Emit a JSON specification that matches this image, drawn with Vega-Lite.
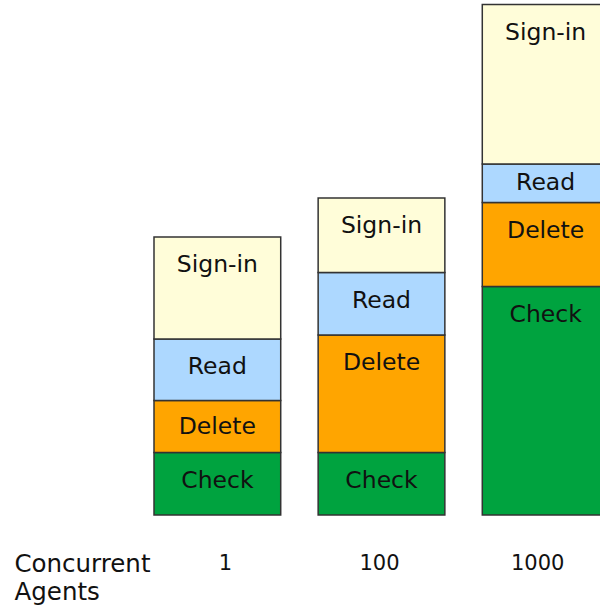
{
  "$schema": "https://vega.github.io/schema/vega-lite/v6.json",
  "width": 600,
  "height": 515,
  "autosize": "none",
  "padding": {"top": 0, "left": 0, "right": 0, "bottom": 91},
  "background": "white",
  "config": {"view": {"stroke": null}, "font": "DejaVu Sans"},
  "data": {
    "values": [
      {"agents": "1", "task": "Check", "order": 1, "value": 12.5},
      {"agents": "1", "task": "Delete", "order": 2, "value": 10.4},
      {"agents": "1", "task": "Read", "order": 3, "value": 12.3},
      {"agents": "1", "task": "Sign-in", "order": 4, "value": 20.4},
      {"agents": "100", "task": "Check", "order": 1, "value": 12.5},
      {"agents": "100", "task": "Delete", "order": 2, "value": 23.5},
      {"agents": "100", "task": "Read", "order": 3, "value": 12.5},
      {"agents": "100", "task": "Sign-in", "order": 4, "value": 14.9},
      {"agents": "1000", "task": "Check", "order": 1, "value": 45.7},
      {"agents": "1000", "task": "Delete", "order": 2, "value": 16.8},
      {"agents": "1000", "task": "Read", "order": 3, "value": 7.7},
      {"agents": "1000", "task": "Sign-in", "order": 4, "value": 31.9}
    ]
  },
  "transform": [
    {"stack": "value", "groupby": ["agents"], "sort": [{"field": "order", "order": "ascending"}], "as": ["v0", "v1"]},
    {"calculate": "datum.v1 - min((datum.v1 - datum.v0) / 2, 5.6)", "as": "labelY"}
  ],
  "encoding": {
    "x": {
      "field": "agents",
      "type": "ordinal",
      "sort": ["1", "100", "1000"],
      "scale": {"range": [154, 609], "paddingInner": 0.228, "paddingOuter": 0},
      "axis": {
        "title": ["Concurrent", "Agents"],
        "domain": false,
        "ticks": false,
        "tickSize": 0,
        "labelAngle": 0,
        "labelFontSize": 21,
        "labelPadding": 48,
        "labelBaseline": "middle",
        "labelColor": "#111",
        "labelOffset": {"condition": [{"test": "datum.value === '1'", "value": 8}, {"test": "datum.value === '1000'", "value": -8}], "value": -2},
        "titleX": 14,
        "titleY": 56,
        "titleAlign": "left",
        "titleAnchor": null,
        "titleBaseline": "alphabetic",
        "titleFontSize": 24.5,
        "titleFontWeight": "normal",
        "titleLineHeight": 28,
        "titleAngle": 0,
        "titleColor": "#111"
      }
    }
  },
  "layer": [
    {
      "mark": {"type": "bar", "stroke": "#333", "strokeWidth": 1.5},
      "encoding": {
        "y": {"field": "v0", "type": "quantitative", "scale": {"domain": [0, 103]}, "axis": null},
        "y2": {"field": "v1"},
        "color": {
          "field": "task",
          "type": "nominal",
          "scale": {"domain": ["Check", "Delete", "Read", "Sign-in"], "range": ["#00A33F", "#FFA500", "#ADD8FF", "#FFFDD9"]},
          "legend": null
        }
      }
    },
    {
      "mark": {"type": "text", "fontSize": 23.5, "baseline": "middle", "color": "#111"},
      "encoding": {
        "y": {"field": "labelY", "type": "quantitative", "scale": {"domain": [0, 103]}, "axis": null},
        "text": {"field": "task"}
      }
    }
  ]
}
